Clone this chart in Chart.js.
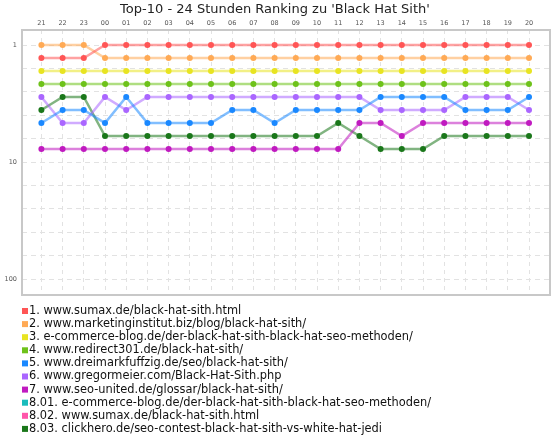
<!DOCTYPE html>
<html><head><meta charset="utf-8">
<script src="https://cdn.jsdelivr.net/npm/chart.js@4/dist/chart.umd.min.js"></script>
<style>html,body{margin:0;padding:0;background:#fff}#c{display:block}</style>
</head><body>
<canvas id="c" width="560" height="440"></canvas>
<script>
const hours = ['21','22','23','00','01','02','03','04','05','06','07','08','09','10','11','12','13','14','15','16','17','18','19','20'];
const names = [
  '1. www.sumax.de/black-hat-sith.html',
  '2. www.marketinginstitut.biz/blog/black-hat-sith/',
  '3. e-commerce-blog.de/der-black-hat-sith-black-hat-seo-methoden/',
  '4. www.redirect301.de/black-hat-sith/',
  '5. www.dreimarkfuffzig.de/seo/black-hat-sith/',
  '6. www.gregormeier.com/Black-Hat-Sith.php',
  '7. www.seo-united.de/glossar/black-hat-sith/',
  '8.01. e-commerce-blog.de/der-black-hat-sith-black-hat-seo-methoden/',
  '8.02. www.sumax.de/black-hat-sith.html',
  '8.03. clickhero.de/seo-contest-black-hat-sith-vs-white-hat-jedi'
];
const colors = ['#ff5555','#ffaa55','#e8e422','#6ec21a','#1a88ff','#aa66ff','#c01ac0','#1abcbc','#ff55aa','#1a771a'];
const rank1 = [2,2,2,1,1,1,1,1,1,1,1,1,1,1,1,1,1,1,1,1,1,1,1,1];
const rank2 = [1,1,1,2,2,2,2,2,2,2,2,2,2,2,2,2,2,2,2,2,2,2,2,2];
const rank3 = [3,3,3,3,3,3,3,3,3,3,3,3,3,3,3,3,3,3,3,3,3,3,3,3];
const rank4 = [4,4,4,4,4,4,4,4,4,4,4,4,4,4,4,4,4,4,4,4,4,4,4,4];
const rank5 = [7,6,6,7,5,7,7,7,7,6,6,7,6,6,6,6,5,5,5,5,6,6,6,5];
const rank6 = [5,7,7,5,6,5,5,5,5,5,5,5,5,5,5,5,6,6,6,6,5,5,5,6];
const rank7 = [9,9,9,9,9,9,9,9,9,9,9,9,9,9,9,7,7,8,7,7,7,7,7,7];
const rank801 = [];
const rank802 = [];
const rank803 = [6,5,5,8,8,8,8,8,8,8,8,8,8,8,7,8,9,9,9,8,8,8,8,8];
const series = [rank1,rank2,rank3,rank4,rank5,rank6,rank7,rank801,rank802,rank803];
const yLabels = ['1','10','100'];
const yLabelRanks = [1,10,100];

// piecewise axis: 1..10 linear, 10..100 compressed by 10
const toAxis = r => r <= 10 ? r : 10 + (r - 10) / 10;
const yGridStep = 1.8;

function rgba(hex, a){
  const n = parseInt(hex.slice(1),16);
  return `rgba(${(n>>16)&255},${(n>>8)&255},${n&255},${a})`;
}

const datasets = series.map((s,i)=>({
  label: names[i],
  data: s.map((r,j)=>({x:j, y:toAxis(r)})),
  borderColor: rgba(colors[i],0.55),
  backgroundColor: colors[i],
  pointBackgroundColor: colors[i],
  pointBorderWidth: 0,
  pointRadius: 3,
  pointHoverRadius: 3,
  borderWidth: 2.5,
  tension: 0
}));

const boxPlugin = {
  id: 'box',
  beforeDatasetsDraw(chart){
    const {ctx, chartArea:a} = chart;
    ctx.save();
    ctx.strokeStyle = '#c8c8c8';
    ctx.lineWidth = 2;
    ctx.strokeRect(a.left, a.top, a.right - a.left, a.bottom - a.top);
    ctx.restore();
  }
};
const legendPlugin = {
  id: 'listLegend',
  afterDraw(chart){
    const ctx = chart.ctx;
    ctx.save();
    ctx.font = '11.4px "DejaVu Sans"';
    ctx.textBaseline = 'middle';
    ctx.textAlign = 'left';
    chart.data.datasets.forEach((d,i)=>{
      const y = 311 + i*13.1;
      ctx.fillStyle = colors[i];
      ctx.fillRect(22, y-3, 6, 6);
      ctx.fillStyle = '#111';
      ctx.fillText(d.label, 29, y);
    });
    ctx.restore();
  }
};

new Chart(document.getElementById('c'), {
  type: 'line',
  data: { datasets },
  plugins: [boxPlugin, legendPlugin],
  options: {
    responsive: false,
    animation: false,
    devicePixelRatio: 1,
    layout: { padding: { left: 0, right: 10, top: 0, bottom: 145 } },
    plugins: {
      legend: { display: false },
      tooltip: { enabled: false },
      title: {
        display: true,
        text: "Top-10 - 24 Stunden Ranking zu 'Black Hat Sith'",
        font: { family: 'DejaVu Sans', size: 13, weight: 'normal' },
        color: '#222',
        padding: { top: 1.6, bottom: 0 }
      }
    },
    scales: {
      x: {
        type: 'linear',
        position: 'top',
        min: -0.915,
        max: 23.99,
        afterBuildTicks: s => { s.ticks = hours.map((h,i)=>({value:i})); },
        afterFit: s => { s.height = 12.8; },
        ticks: {
          callback: v => hours[v],
          font: { family: 'DejaVu Sans', size: 6.5 },
          color: '#555',
          padding: 3,
          maxRotation: 0,
          autoSkip: false
        },
        grid: { color: '#e2e2e2', lineWidth: 1, drawTicks: false },
        border: { display: false, dash: [4,4] }
      },
      y: {
        type: 'linear',
        reverse: true,
        min: -0.154,
        max: 20.23,
        afterBuildTicks: s => {
          const top = toAxis(yLabelRanks[0]), bot = toAxis(yLabelRanks[yLabelRanks.length-1]);
          const t = [];
          for (let v = top; v <= bot + 1e-6; v += yGridStep) t.push({value: Math.round(v*100)/100});
          s.ticks = t;
        },
        afterFit: s => { s.width = 22; },
        ticks: {
          callback: v => { const k = yLabelRanks.findIndex(r => Math.abs(toAxis(r)-v) < 1e-3); return k >= 0 ? yLabels[k] : ''; },
          font: { family: 'DejaVu Sans', size: 6.5 },
          color: '#555',
          padding: 5,
          autoSkip: false
        },
        grid: { color: '#e2e2e2', lineWidth: 1, drawTicks: false },
        border: { display: false, dash: [5,4] }
      }
    }
  }
});
</script>
</body></html>
